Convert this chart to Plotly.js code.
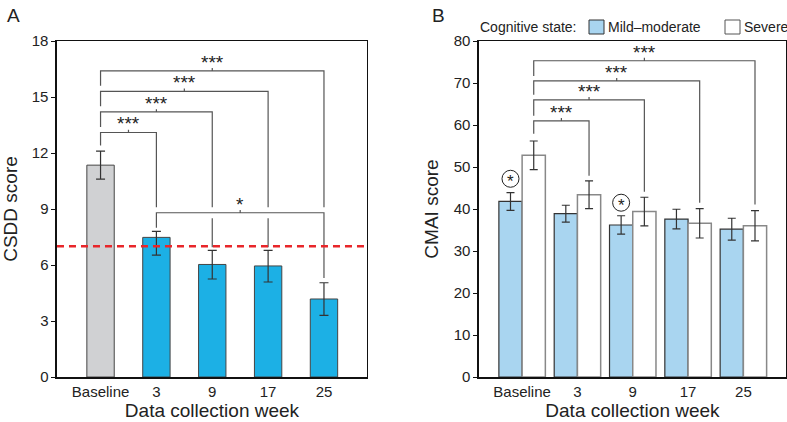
<!DOCTYPE html>
<html>
<head>
<meta charset="utf-8">
<script src="https://cdn.plot.ly/plotly-3.0.1.min.js"></script>
<style>body{margin:0;background:#fff}</style>
</head>
<body>
<div id="chart" style="width:787px;height:422px"></div>
<script>
// week labels, shared by both panels
var weeks = ['Baseline', '3', '9', '17', '25'];
var weekPos = [0, 1, 2, 3, 4];

// panel A: CSDD score (mean, upper and lower error)
var csddMean = [11.35, 7.48, 6.03, 5.95, 4.18];
var csddErrUp = [0.75, 0.32, 0.75, 0.83, 0.87];
var csddErrDown = [0.75, 0.95, 0.78, 0.86, 0.88];
var csddCutoff = 7;

// panel B: CMAI score by cognitive state
var groups = ['Mild\u2013moderate', 'Severe'];
var cmaiMild = [41.8, 38.9, 36.2, 37.6, 35.2];
var cmaiMildErr = [2.1, 2.0, 2.2, 2.35, 2.6];
var cmaiSevere = [52.8, 43.4, 39.4, 36.6, 36.0];
var cmaiSevereErr = [3.4, 3.3, 3.4, 3.5, 3.6];

// circled stars above the mild-moderate bars (week index, height)
var circledWeeks = [0, 2];
var circledY = [47.2, 41.5];

// significance brackets: from, to, height, left leg end, right leg ends, label
var bracketsA = [
  {from: 0, to: 1, y: 13.1, left: 12.4, right: [9.1], label: '***'},
  {from: 0, to: 2, y: 14.2, left: 13.4, right: [9.1, 8.5, 6.95], label: '***'},
  {from: 0, to: 3, y: 15.3, left: 14.5, right: [9.1, 8.5, 6.95], label: '***'},
  {from: 0, to: 4, y: 16.4, left: 15.6, right: [9.1], label: '***'},
  {from: 1, to: 4, y: 8.8, left: 8.0, right: [5.3], label: '*'}
];
var bracketsB = [
  {from: 0, to: 1, y: 61.0, left: 57.9, right: [47.9], label: '***'},
  {from: 0, to: 2, y: 66.0, left: 62.2, right: [44.1], label: '***'},
  {from: 0, to: 3, y: 70.5, left: 67.2, right: [41.5], label: '***'},
  {from: 0, to: 4, y: 75.3, left: 71.7, right: [41.1], label: '***'}
];

var barW = 0.42;
var lineCol = '#555';
var mildCol = '#a9d5f0', mildLine = '#333';
var sevCol = '#ffffff', sevLine = '#888';

var W = 787, H = 422;
function px(x) { return x / W; }
function py(y) { return 1 - y / H; }

var data = [
  {
    x: weekPos, y: csddMean, type: 'bar', width: 0.49, xaxis: 'x', yaxis: 'y',
    showlegend: false,
    marker: {color: ['#d0d1d3', '#1cb0e5', '#1cb0e5', '#1cb0e5', '#1cb0e5'], line: {color: '#444', width: 1}},
    error_y: {type: 'data', symmetric: false, array: csddErrUp, arrayminus: csddErrDown,
      color: '#333', thickness: 1.2, width: 4.5}
  },
  {
    x: weekPos, y: cmaiMild, type: 'bar', name: groups[0], showlegend: false,
    width: barW, offset: -barW, xaxis: 'x2', yaxis: 'y2',
    marker: {color: mildCol, line: {color: mildLine, width: 1.2}},
    error_y: {type: 'data', array: cmaiMildErr, color: '#333', thickness: 1.2, width: 4}
  },
  {
    x: weekPos, y: cmaiSevere, type: 'bar', name: groups[1], showlegend: false,
    width: barW, offset: 0, xaxis: 'x2', yaxis: 'y2',
    marker: {color: sevCol, line: {color: sevLine, width: 1.5}},
    error_y: {type: 'data', array: cmaiSevereErr, color: '#333', thickness: 1.2, width: 4}
  },
  {
    x: circledWeeks.map(function (w) { return w - barW / 2; }), y: circledY,
    type: 'scatter', mode: 'markers', xaxis: 'x2', yaxis: 'y2', showlegend: false,
    marker: {symbol: 'circle-open', size: 17, color: '#222', line: {width: 1}}
  }
];

var shapes = [];
var annotations = [];

function addBrackets(list, xr, yr, shift, tick) {
  list.forEach(function (b) {
    var x0 = b.from + shift, x1 = b.to + shift;
    var p = 'M' + x0 + ',' + b.left + ' L' + x0 + ',' + b.y + ' L' + x1 + ',' + b.y + ' L' + x1 + ',' + b.right[0];
    for (var i = 1; i < b.right.length; i += 2) {
      p += ' M' + x1 + ',' + b.right[i] + ' L' + x1 + ',' + b.right[i + 1];
    }
    var xm = (x0 + x1) / 2;
    p += ' M' + xm + ',' + b.y + ' L' + xm + ',' + (b.y + tick);
    shapes.push({type: 'path', path: p, xref: xr, yref: yr, line: {color: lineCol, width: 1.2}});
    annotations.push({x: xm, y: b.y, xref: xr, yref: yr, text: b.label, showarrow: false,
      yanchor: 'bottom', yshift: -4, font: {size: 19, color: '#222'}});
  });
}

addBrackets(bracketsA, 'x', 'y', 0, 0.15);
addBrackets(bracketsB, 'x2', 'y2', barW / 2, 0.7);

// red cut-off line
shapes.push({type: 'line', xref: 'x domain', yref: 'y', x0: 0, x1: 1, y0: csddCutoff, y1: csddCutoff,
  line: {color: '#e8262a', width: 2.5, dash: '7px,5px'}});

// stars inside the circles
circledWeeks.forEach(function (w, i) {
  annotations.push({x: w - barW / 2, y: circledY[i], xref: 'x2', yref: 'y2', text: '*', showarrow: false,
    yshift: -3, font: {size: 17, color: '#222'}});
});

// panel letters
annotations.push({x: px(5), y: py(3), xref: 'paper', yref: 'paper', text: 'A', showarrow: false,
  xanchor: 'left', yanchor: 'top', font: {size: 19, color: '#222'}});
annotations.push({x: px(430), y: py(3), xref: 'paper', yref: 'paper', text: 'B', showarrow: false,
  xanchor: 'left', yanchor: 'top', font: {size: 19, color: '#222'}});

// legend for panel B, laid out like the original
annotations.push({x: px(478), y: py(27), xref: 'paper', yref: 'paper', text: 'Cognitive state:',
  showarrow: false, xanchor: 'left', yanchor: 'middle', font: {size: 14, color: '#222'}});
var legendX = [589, 725];
var legendFill = [mildCol, sevCol];
var legendLine = [mildLine, '#555'];
groups.forEach(function (g, i) {
  shapes.push({type: 'rect', xref: 'paper', yref: 'paper',
    x0: px(legendX[i]), x1: px(legendX[i] + 15), y0: py(34), y1: py(20),
    fillcolor: legendFill[i], line: {color: legendLine[i], width: 1}});
  annotations.push({x: px(legendX[i] + 17), y: py(27), xref: 'paper', yref: 'paper', text: g,
    showarrow: false, xanchor: 'left', yanchor: 'middle', font: {size: 14, color: '#222'}});
});

function xAxis(dom, anchor) {
  return {
    domain: dom, anchor: anchor, range: [-0.78, 4.77], tickvals: weekPos, ticktext: weeks,
    showline: true, mirror: true, linecolor: '#111', linewidth: 1.5, ticks: '',
    showgrid: false, zeroline: false, fixedrange: true, automargin: false,
    title: {text: 'Data collection week', font: {size: 19}, standoff: 5}
  };
}
function yAxis(maxv, step, title, anchor) {
  return {
    domain: [0.1066, 0.9028], anchor: anchor, range: [0, maxv], dtick: step,
    ticks: 'outside', ticklen: 4, tickwidth: 1, tickcolor: '#111',
    showline: true, mirror: true, linecolor: '#111', linewidth: 1.5,
    showgrid: false, zeroline: false, fixedrange: true, automargin: false,
    title: {text: title, font: {size: 19}, standoff: 10}
  };
}

var layout = {
  width: W, height: H,
  margin: {l: 0, r: 0, t: 0, b: 0},
  paper_bgcolor: '#fff', plot_bgcolor: '#fff',
  font: {family: 'Liberation Sans, Arial, sans-serif', size: 15, color: '#222'},
  barmode: 'overlay',
  showlegend: false,
  xaxis: xAxis([0.0724, 0.4663], 'y'),
  yaxis: yAxis(18, 3, 'CSDD score', 'x'),
  xaxis2: xAxis([0.6086, 0.9987], 'y2'),
  yaxis2: yAxis(80, 10, 'CMAI score', 'x2'),
  shapes: shapes,
  annotations: annotations
};

Plotly.newPlot('chart', data, layout, {displayModeBar: false, staticPlot: true});
</script>
</body>
</html>
